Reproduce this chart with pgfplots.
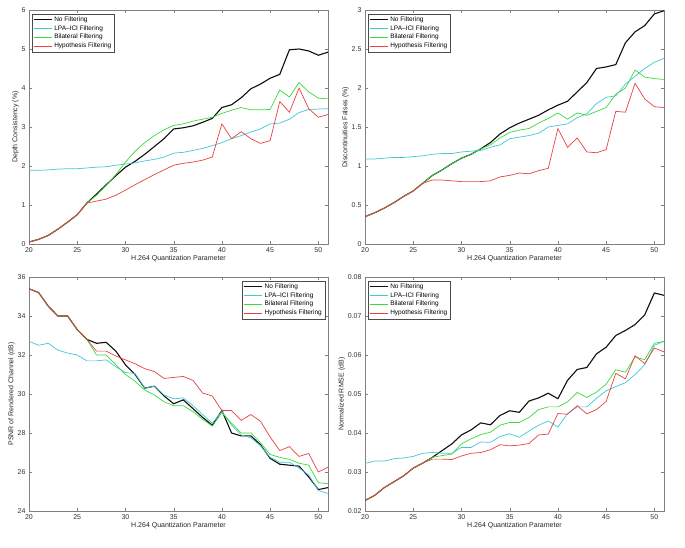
\documentclass[border=0pt]{standalone}
\usepackage{fontspec}
\setmainfont{Liberation Sans}
\usepackage{pgfplots}
\usepackage{pgfplotstable}
\pgfplotsset{compat=1.18}

\definecolor{cNF}{rgb}{0.05,0.05,0.05}
\definecolor{cLPA}{rgb}{0.25,0.78,0.83}
\definecolor{cBIL}{rgb}{0.22,0.86,0.22}
\definecolor{cHYP}{rgb}{0.92,0.25,0.25}

\pgfplotstableread{
q nf lpa bil hyp
20 0.05 1.89 0.05 0.05
21 0.12 1.89 0.12 0.12
22 0.22 1.90 0.22 0.22
23 0.38 1.92 0.38 0.38
24 0.56 1.93 0.56 0.56
25 0.75 1.93 0.75 0.75
26 1.05 1.95 1.05 1.05
27 1.28 1.97 1.25 1.10
28 1.52 1.98 1.50 1.15
29 1.75 2.02 1.78 1.25
30 1.97 2.05 2.10 1.38
31 2.12 2.08 2.38 1.52
32 2.30 2.13 2.60 1.65
33 2.50 2.17 2.78 1.78
34 2.70 2.23 2.93 1.90
35 2.95 2.33 3.04 2.02
36 2.98 2.35 3.08 2.07
37 3.03 2.40 3.15 2.10
38 3.12 2.45 3.20 2.15
39 3.22 2.52 3.25 2.23
40 3.50 2.60 3.35 3.08
41 3.57 2.70 3.43 2.70
42 3.75 2.78 3.50 2.88
43 3.98 2.87 3.44 2.70
44 4.10 2.95 3.44 2.58
45 4.25 3.08 3.45 2.65
46 4.35 3.10 3.95 3.65
47 4.98 3.20 3.77 3.38
48 5.00 3.37 4.14 4.00
49 4.95 3.45 3.90 3.47
50 4.84 3.46 3.74 3.25
51 4.92 3.47 3.72 3.32
}\tA

\pgfplotstableread{
q nf lpa bil hyp
20 0.35 1.09 0.35 0.35
21 0.40 1.09 0.40 0.40
22 0.46 1.10 0.46 0.46
23 0.53 1.11 0.53 0.53
24 0.61 1.11 0.61 0.61
25 0.68 1.12 0.68 0.68
26 0.78 1.13 0.78 0.78
27 0.88 1.15 0.88 0.82
28 0.95 1.16 0.95 0.82
29 1.03 1.16 1.03 0.81
30 1.10 1.18 1.10 0.80
31 1.15 1.19 1.15 0.80
32 1.22 1.20 1.22 0.80
33 1.30 1.24 1.27 0.81
34 1.41 1.27 1.36 0.86
35 1.49 1.35 1.43 0.88
36 1.55 1.37 1.46 0.91
37 1.60 1.39 1.48 0.90
38 1.65 1.42 1.55 0.94
39 1.72 1.50 1.61 0.97
40 1.78 1.52 1.68 1.48
41 1.83 1.54 1.60 1.24
42 1.95 1.62 1.68 1.36
43 2.07 1.67 1.65 1.18
44 2.25 1.80 1.70 1.17
45 2.27 1.88 1.75 1.21
46 2.30 1.90 1.92 1.70
47 2.58 2.05 2.00 1.69
48 2.72 2.15 2.23 2.06
49 2.80 2.25 2.14 1.86
50 2.95 2.33 2.12 1.76
51 2.99 2.38 2.11 1.75
}\tB

\pgfplotstableread{
q nf lpa bil hyp
20 35.40 32.70 35.40 35.40
21 35.20 32.50 35.20 35.20
22 34.50 32.60 34.50 34.50
23 34.00 32.25 34.00 34.00
24 34.00 32.10 34.00 34.00
25 33.30 32.00 33.30 33.30
26 32.80 31.70 32.80 32.80
27 32.60 31.70 32.00 32.20
28 32.65 31.75 32.00 32.20
29 32.20 31.40 31.50 31.95
30 31.50 31.10 31.00 31.75
31 31.00 31.05 30.65 31.55
32 30.30 30.30 30.20 31.30
33 30.40 30.40 29.95 31.15
34 29.90 29.95 29.60 30.80
35 29.50 29.75 29.40 30.85
36 29.70 29.80 29.40 30.90
37 29.25 29.40 29.10 30.70
38 28.80 28.95 28.70 30.05
39 28.40 28.50 28.35 29.90
40 29.15 29.10 29.05 29.15
41 28.00 28.40 28.50 29.15
42 27.85 27.90 28.00 28.65
43 27.85 27.75 28.00 28.95
44 27.40 27.35 27.50 28.60
45 26.70 26.75 26.90 27.80
46 26.40 26.50 26.75 27.10
47 26.35 26.50 26.65 27.30
48 26.30 26.20 26.45 26.80
49 25.75 25.85 26.35 26.95
50 25.10 25.05 25.45 26.00
51 25.20 24.90 25.40 26.25
}\tC

\pgfplotstableread{
q nf lpa bil hyp
20 0.0227 0.0322 0.0227 0.0227
21 0.0240 0.0328 0.0240 0.0240
22 0.0260 0.0328 0.0260 0.0260
23 0.0275 0.0334 0.0275 0.0275
24 0.0290 0.0336 0.0290 0.0290
25 0.0310 0.0340 0.0310 0.0310
26 0.0323 0.0348 0.0323 0.0323
27 0.0338 0.0350 0.0338 0.0333
28 0.0355 0.0348 0.0342 0.0333
29 0.0372 0.0348 0.0346 0.0332
30 0.0395 0.0363 0.0372 0.0341
31 0.0408 0.0363 0.0385 0.0348
32 0.0426 0.0377 0.0396 0.0350
33 0.0421 0.0376 0.0402 0.0357
34 0.0445 0.0391 0.0420 0.0370
35 0.0457 0.0398 0.0427 0.0367
36 0.0453 0.0389 0.0427 0.0369
37 0.0482 0.0405 0.0440 0.0373
38 0.0490 0.0420 0.0460 0.0395
39 0.0502 0.0431 0.0467 0.0397
40 0.0488 0.0415 0.0467 0.0450
41 0.0535 0.0450 0.0480 0.0448
42 0.0563 0.0467 0.0504 0.0470
43 0.0568 0.0467 0.0491 0.0449
44 0.0603 0.0489 0.0505 0.0460
45 0.0620 0.0508 0.0525 0.0481
46 0.0650 0.0519 0.0562 0.0553
47 0.0663 0.0529 0.0556 0.0539
48 0.0678 0.0550 0.0595 0.0598
49 0.0703 0.0575 0.0588 0.0578
50 0.0759 0.0625 0.0630 0.0618
51 0.0753 0.0635 0.0635 0.0608
}\tD

\pgfplotsset{
  mystyle/.style={
    scale only axis, width=299pt, height=234pt,
    anchor=south west,
    xmin=20, xmax=51, xtick={20,25,...,50},
    axis line style={black!50},
    tick style={black!50},
    major tick length=3pt,
    font=\fontsize{7}{8}\selectfont,
    ticklabel style={font=\fontsize{7}{8}\selectfont, text=black!80},
    label style={font=\fontsize{7}{8}\selectfont, text=black!85},
    /pgf/number format/assume math mode=true,
    xlabel={H.264 Quantization Parameter},
    xlabel style={yshift=4pt},
    ylabel style={yshift=-4pt},
    legend cell align=left,
    legend style={font=\fontsize{6.5}{7}\selectfont, draw=black!70, inner sep=1pt, row sep=-1.5pt, fill=white},
    legend image code/.code={\draw[##1] (0pt,0pt) -- (18pt,0pt);},
    cycle list={
      {cNF, line width=1.1pt},
      {cLPA, line width=0.7pt},
      {cBIL, line width=0.7pt},
      {cHYP, line width=0.7pt}
    },
  }
}

\begin{document}
\begin{tikzpicture}[x=1pt,y=1pt]
\begin{axis}[mystyle, at={(29pt,303pt)},
  ymin=0, ymax=6, ytick={0,1,...,6},
  ylabel={Depth Consistency (\%)},
  legend style={at={(0.01,0.985)}, anchor=north west}]
\addplot table[x=q,y=nf]{\tA};
\addplot table[x=q,y=lpa]{\tA};
\addplot table[x=q,y=bil]{\tA};
\addplot table[x=q,y=hyp]{\tA};
\legend{No Filtering, LPA--ICI Filtering, Bilateral Filtering, Hypothesis Filtering}
\end{axis}
\begin{axis}[mystyle, at={(365pt,303pt)},
  ymin=0, ymax=3, ytick={0,0.5,...,3},
  yticklabel style={/pgf/number format/fixed},
  ylabel={Discontinuities Falses (\%)},
  legend style={at={(0.01,0.985)}, anchor=north west}]
\addplot table[x=q,y=nf]{\tB};
\addplot table[x=q,y=lpa]{\tB};
\addplot table[x=q,y=bil]{\tB};
\addplot table[x=q,y=hyp]{\tB};
\legend{No Filtering, LPA--ICI Filtering, Bilateral Filtering, Hypothesis Filtering}
\end{axis}
\begin{axis}[mystyle, at={(29pt,36pt)},
  ymin=24, ymax=36, ytick={24,26,...,36},
  ylabel={PSNR of Rendered Channel (dB)},
  legend style={at={(0.99,0.985)}, anchor=north east}]
\addplot table[x=q,y=nf]{\tC};
\addplot table[x=q,y=lpa]{\tC};
\addplot table[x=q,y=bil]{\tC};
\addplot table[x=q,y=hyp]{\tC};
\legend{No Filtering, LPA--ICI Filtering, Bilateral Filtering, Hypothesis Filtering}
\end{axis}
\begin{axis}[mystyle, at={(365pt,36pt)},
  ymin=0.02, ymax=0.08, ytick={0.02,0.03,...,0.08},
  scaled y ticks=false,
  yticklabel style={/pgf/number format/fixed, /pgf/number format/precision=2, /pgf/number format/fixed zerofill},
  ylabel={Normalized RMSE (dB)},
  legend style={at={(0.01,0.985)}, anchor=north west}]
\addplot table[x=q,y=nf]{\tD};
\addplot table[x=q,y=lpa]{\tD};
\addplot table[x=q,y=bil]{\tD};
\addplot table[x=q,y=hyp]{\tD};
\legend{No Filtering, LPA--ICI Filtering, Bilateral Filtering, Hypothesis Filtering}
\end{axis}
\pgfresetboundingbox
\useasboundingbox (0,0) rectangle (685,547);
\end{tikzpicture}
\end{document}
